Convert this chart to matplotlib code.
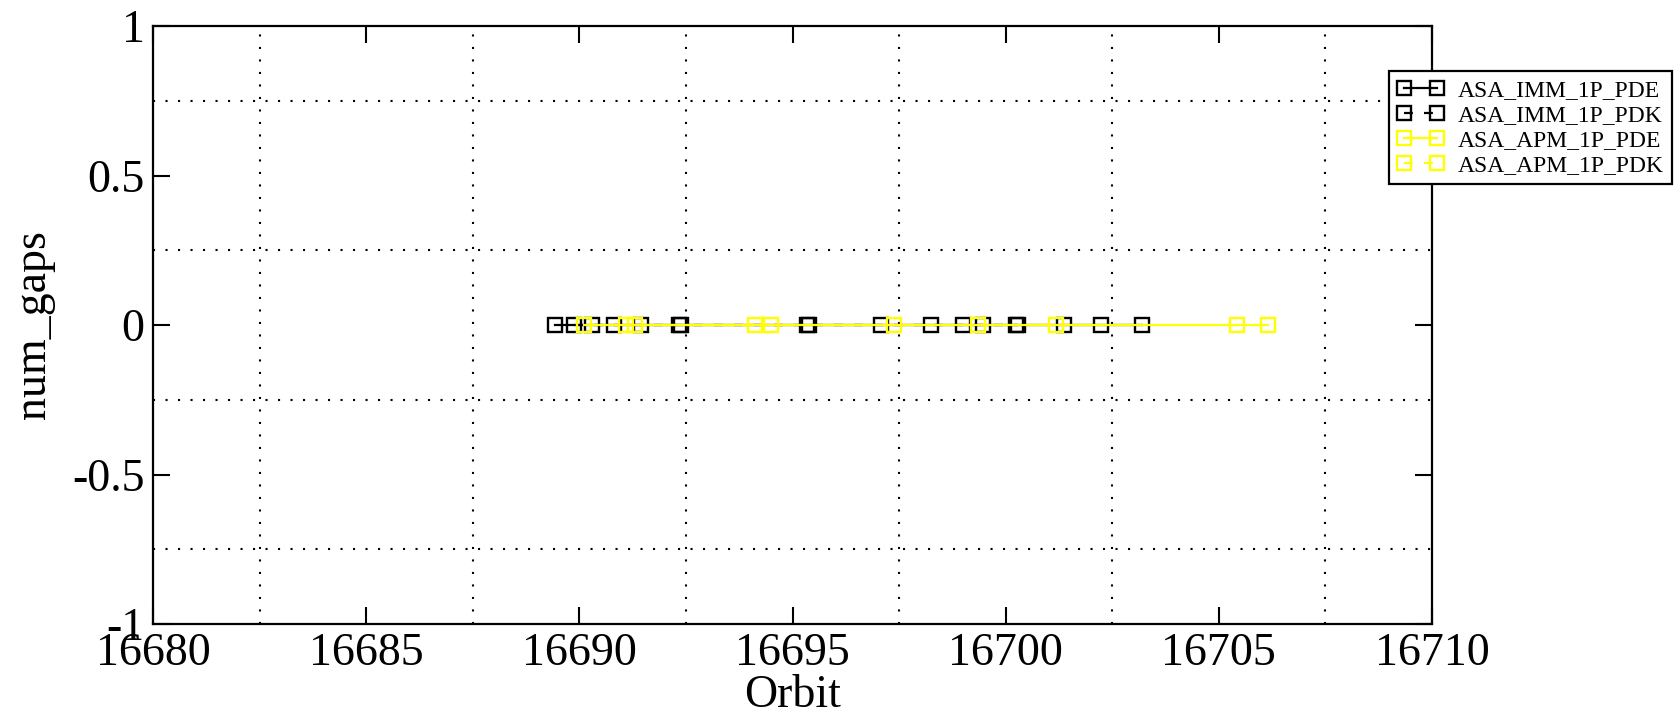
import matplotlib
matplotlib.use("Agg")
import matplotlib.pyplot as plt
from matplotlib.ticker import FixedLocator, MultipleLocator, FormatStrFormatter

plt.rcParams["font.family"] = ["Liberation Serif", "DejaVu Serif"]
plt.rcParams["axes.unicode_minus"] = False

# orbits of each product (num_gaps is zero everywhere)
imm_pde_orbit = [16689.42, 16690.30, 16691.45, 16692.33, 16695.33, 16697.07,
                 16698.24, 16699.46, 16700.25, 16701.37, 16702.24, 16703.19]
imm_pde_gaps = [0, 0, 0, 0, 0, 0, 0, 0, 0, 0, 0, 0]
imm_pdk_orbit = [16689.88, 16690.82, 16692.38, 16695.38, 16699.01, 16700.30]
imm_pdk_gaps = [0, 0, 0, 0, 0, 0]
apm_pde_orbit = [16690.12, 16691.30, 16694.50, 16697.38, 16699.35, 16701.19,
                 16705.42, 16706.15]
apm_pde_gaps = [0, 0, 0, 0, 0, 0, 0, 0]
apm_pdk_orbit = [16691.10, 16694.11]
apm_pdk_gaps = [0, 0]

labels = ["ASA_IMM_1P_PDE", "ASA_IMM_1P_PDK", "ASA_APM_1P_PDE", "ASA_APM_1P_PDK"]
y_tick_labels = ["-1", "-0.5", "0", "0.5", "1"]

W, H = 1681, 724
fig = plt.figure(figsize=(W / 100, H / 100), dpi=100)
ax = fig.add_axes([153 / W, 1 - 624 / H, (1432 - 153) / W, (624 - 26) / H])

series = [
    (imm_pde_orbit, imm_pde_gaps, "black", "-"),
    (imm_pdk_orbit, imm_pdk_gaps, "black", (0, (4, 5))),
    (apm_pde_orbit, apm_pde_gaps, "#FFFF00", "-"),
    (apm_pdk_orbit, apm_pdk_gaps, "#FFFF00", (0, (4, 5))),
]
handles = []
for (x, y, c, ls), lab in zip(series, labels):
    h, = ax.plot(x, y, color=c, linestyle=ls, linewidth=1.6, marker="s",
                 markersize=10.5, markerfacecolor="none", markeredgecolor=c,
                 markeredgewidth=1.7, label=lab)
    handles.append(h)

ax.set_xlim(16680, 16710)
ax.set_ylim(-1, 1)
ax.xaxis.set_major_locator(MultipleLocator(5))
ax.xaxis.set_minor_locator(FixedLocator([16682.5, 16687.5, 16692.5, 16697.5, 16702.5, 16707.5]))
ax.xaxis.set_major_formatter(FormatStrFormatter("%d"))
ax.set_yticks([-1, -0.5, 0, 0.5, 1])
ax.set_yticklabels(y_tick_labels)
ax.yaxis.set_minor_locator(FixedLocator([-0.75, -0.25, 0.25, 0.75]))

ax.grid(which="minor", color="black", linestyle=(0, (1, 5)), linewidth=1.5)
ax.grid(which="major", visible=False)
ax.tick_params(which="major", direction="in", length=12, width=1.5,
               top=True, right=True, labelsize=33, pad=6)
ax.tick_params(which="minor", length=0)
for s in ax.spines.values():
    s.set_linewidth(1.6)

ax.set_xlabel("Orbit", fontsize=33, labelpad=0)
ax.set_ylabel("num_gaps", fontsize=33, labelpad=12)

leg = fig.legend(handles=handles, loc="upper left",
                 bbox_to_anchor=(1389 / W, 1 - 71 / H), borderaxespad=0,
                 fontsize=17, numpoints=2, handlelength=2.0, handletextpad=0.55,
                 labelspacing=0.15, borderpad=0.35, fancybox=False,
                 framealpha=1, edgecolor="black")
leg.get_frame().set_linewidth(1.6)

fig.savefig("out.png", dpi=100)
